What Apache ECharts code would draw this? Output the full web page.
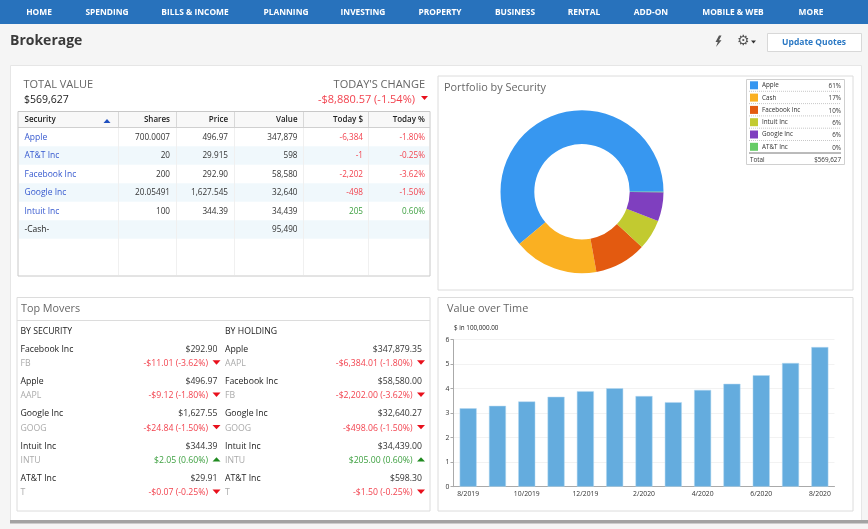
<!DOCTYPE html>
<html>
<head>
<meta charset="utf-8">
<title>Brokerage</title>
<style>
html, body { margin: 0; padding: 0; background: #f5f5f5; }
#main { width: 868px; height: 529px; }
</style>
<script src="https://cdn.jsdelivr.net/npm/echarts@6/dist/echarts.min.js"></script>
</head>
<body>
<div id="main"></div>
<script>
// nav
var navLabels = ['HOME', 'SPENDING', 'BILLS & INCOME', 'PLANNING', 'INVESTING', 'PROPERTY', 'BUSINESS', 'RENTAL', 'ADD-ON', 'MOBILE & WEB', 'MORE'];
var navCenters = [39, 107, 195, 286, 363, 440, 515, 584, 651, 733, 811];

// holdings table
var tableHead = ['Security', 'Shares', 'Price', 'Value', 'Today $', 'Today %'];
var securities = ['Apple', 'AT&T Inc', 'Facebook Inc', 'Google Inc', 'Intuit Inc', '-Cash-'];
var shares = ['700.0007', '20', '200', '20.05491', '100', ''];
var prices = ['496.97', '29.915', '292.90', '1,627.545', '344.39', ''];
var values = ['347,879', '598', '58,580', '32,640', '34,439', '95,490'];
var todayUsd = ['-6,384', '-1', '-2,202', '-498', '205', ''];
var todayPct = ['-1.80%', '-0.25%', '-3.62%', '-1.50%', '0.60%', ''];

// portfolio donut
var pieNames = ['Apple', 'Cash', 'Facebook Inc', 'Intuit Inc', 'Google Inc', 'AT&T Inc'];
var pieValues = [347879, 95490, 58580, 34439, 32640, 598];
var piePct = ['61%', '17%', '10%', '6%', '6%', '0%'];
var pieColors = ['#3797f0', '#fab022', '#e35a10', '#c2ca30', '#7f3fbf', '#66cc66'];

// top movers
var secNames = ['Facebook Inc', 'Apple', 'Google Inc', 'Intuit Inc', 'AT&T Inc'];
var secTickers = ['FB', 'AAPL', 'GOOG', 'INTU', 'T'];
var secPrices = ['$292.90', '$496.97', '$1,627.55', '$344.39', '$29.91'];
var secChanges = ['-$11.01 (-3.62%)', '-$9.12 (-1.80%)', '-$24.84 (-1.50%)', '$2.05 (0.60%)', '-$0.07 (-0.25%)'];
var holdNames = ['Apple', 'Facebook Inc', 'Google Inc', 'Intuit Inc', 'AT&T Inc'];
var holdTickers = ['AAPL', 'FB', 'GOOG', 'INTU', 'T'];
var holdValues = ['$347,879.35', '$58,580.00', '$32,640.27', '$34,439.00', '$598.30'];
var holdChanges = ['-$6,384.01 (-1.80%)', '-$2,202.00 (-3.62%)', '-$498.06 (-1.50%)', '$205.00 (0.60%)', '-$1.50 (-0.25%)'];

// value over time
var months = ['8/2019', '9/2019', '10/2019', '11/2019', '12/2019', '1/2020', '2/2020', '3/2020', '4/2020', '5/2020', '6/2020', '7/2020', '8/2020'];
var monthValues = [3.2, 3.3, 3.48, 3.67, 3.9, 4.02, 3.7, 3.45, 3.95, 4.2, 4.55, 5.05, 5.7];

var FONT = '"Open Sans", sans-serif';
var RED = '#f2434f', GREEN = '#3fa142', BLUE = '#3558cf';
var els = [];

function rect(x, y, w, h, fill, stroke) {
    els.push({
        type: 'rect', shape: { x: x, y: y, width: w, height: h },
        style: { fill: fill, stroke: stroke || null, lineWidth: stroke ? 1 : 0 }, silent: true
    });
}
function line(x1, y1, x2, y2, color, dash) {
    els.push({
        type: 'line', shape: { x1: x1, y1: y1, x2: x2, y2: y2 },
        style: { stroke: color, lineWidth: 1, lineDash: dash || null }, silent: true
    });
}
function text(str, x, y, size, color, align, weight) {
    els.push({
        type: 'text', x: x, y: y + 0.7, silent: true,
        style: {
            text: str, fontFamily: FONT, fontSize: size, fill: color,
            align: align || 'left', verticalAlign: 'middle', fontWeight: weight || 'normal'
        }
    });
}
function tri(cx, cy, up, color, w, h) {
    w = w || 4.5; h = h || 2.5;
    els.push({
        type: 'polygon', silent: true,
        shape: { points: up ? [[cx - w, cy + h], [cx + w, cy + h], [cx, cy - h]] : [[cx - w, cy - h], [cx + w, cy - h], [cx, cy + h]] },
        style: { fill: color }
    });
}
function changeColor(s) { return s.charAt(0) === '-' ? RED : GREEN; }

// page frame
rect(0, 0, 868, 24, '#2872bc');
navLabels.forEach(function (n, i) { text(n, navCenters[i], 12, 8.4, '#ffffff', 'center', 'bold'); });
text('Brokerage', 10, 40.5, 14, '#3a3a3a', 'left', 'bold');
rect(10.5, 65.5, 851, 455, '#ffffff', '#e6e6e6');
rect(10, 520, 858, 3.5, '#a3a3a3');

// toolbar
els.push({
    type: 'polygon', silent: true,
    shape: { points: [[719, 35.5], [715.5, 42], [717.8, 42], [716, 47], [721.5, 40.3], [719, 40.3], [721.5, 35.5]] },
    style: { fill: '#555555' }
});
text('\u2699', 743, 40.5, 14, '#555555', 'center');
tri(753.5, 42, false, '#333333', 2.5, 1.5);
rect(767.5, 33.5, 94, 18, '#ffffff', '#d8d8d8');
text('Update Quotes', 814, 42, 8.5, '#2a78c4', 'center', 'bold');

// totals
text('TOTAL VALUE', 23.5, 84.5, 11, '#666666');
text('$569,627', 24, 99.5, 10.5, '#222222');
text("TODAY'S CHANGE", 425, 84.5, 11, '#666666', 'right');
text('-$8,880.57 (-1.54%)', 415, 99.5, 11, RED, 'right');
tri(424.5, 98, false, '#e8101c', 3.5, 2);

// holdings table
var colEdges = [118.5, 176.5, 234.5, 303.5, 368.5];
var colRights = [170, 228, 297.5, 363, 425];
var rowY = [137, 155.5, 174, 192.5, 211, 229.5];
rect(18, 111.5, 412, 164.5, '#ffffff', '#c8c8c8');
rect(19, 112, 410, 15.5, '#f8f8f8');
line(18, 127.5, 430, 127.5, '#d0d0d0');
securities.forEach(function (s, i) {
    if (i % 2 === 1) rect(19, rowY[i] - 9.2, 410, 18.4, '#f0f8fc');
});
colEdges.forEach(function (x) {
    line(x, 112, x, 127, '#d8d8d8');
    line(x, 128, x, 275, '#f0f0f0');
});
tableHead.forEach(function (h, i) {
    if (i === 0) text(h, 24.5, 119.5, 8, '#222222', 'left', 600);
    else text(h, colRights[i - 1], 119.5, 8, '#222222', 'right', 600);
});
tri(107, 121, true, '#1f4fbf', 3.5, 2);
securities.forEach(function (s, i) {
    var y = rowY[i] - 0.5;
    text(s, 24.5, y, 8.5, i === 5 ? '#222222' : BLUE);
    text(shares[i], colRights[0], y, 8.2, '#333333', 'right');
    text(prices[i], colRights[1], y, 8.2, '#333333', 'right');
    text(values[i], colRights[2], y, 8.2, '#333333', 'right');
    if (todayUsd[i]) {
        text(todayUsd[i], colRights[3], y, 8.2, changeColor(todayUsd[i]), 'right');
        text(todayPct[i], colRights[4], y, 8.2, changeColor(todayPct[i]), 'right');
    }
});

// portfolio panel
rect(438, 76, 415, 214, '#ffffff', '#dcdcdc');
text('Portfolio by Security', 444, 87, 10.9, '#666666');
rect(746.5, 79.5, 98, 85, '#ffffff', '#d0d0d0');
pieNames.forEach(function (n, i) {
    var y = 85.3 + i * 12.3;
    rect(750, y - 4, 8, 8, pieColors[i]);
    text(n, 762, y - 0.5, 6.3, '#333333');
    text(piePct[i], 841, y + 0.3, 6.3, '#333333', 'right');
    if (i < 5) line(749, y + 6, 841, y + 6, '#c8c8c8', [1, 1]);
});
line(749, 153, 841, 153, '#777777');
text('Total', 750, 159.5, 6.3, '#333333');
text('$569,627', 841, 159.5, 6.3, '#333333', 'right');

// top movers panel
rect(17, 297.5, 413, 213.5, '#ffffff', '#dcdcdc');
line(17, 320.5, 430, 320.5, '#dcdcdc');
text('Top Movers', 21, 308.5, 10.8, '#666666');
function moverColumn(head, x, priceRight, changeRight, triX, names, tickers, prices2, changes) {
    text(head, x, 330.5, 8.7, '#222222');
    names.forEach(function (n, i) {
        var y1 = 348.5 + i * 32.3, y2 = 363 + i * 32.3;
        text(n, x, y1, 8.7, '#222222');
        text(tickers[i], x, y2, 8.7, '#aaaaaa');
        text(prices2[i], priceRight, y1, 8.7, '#333333', 'right');
        var c = changeColor(changes[i]);
        text(changes[i], changeRight, y2, 8.7, c, 'right');
        if (c === RED) tri(triX, y2 - 0.5, false, '#e8101c', 4, 2.2);
        else tri(triX, y2 - 0.5, true, '#1f8a1f', 4, 2.2);
    });
}
moverColumn('BY SECURITY', 20.5, 217.5, 208, 216.5, secNames, secTickers, secPrices, secChanges);
moverColumn('BY HOLDING', 225, 422, 412.5, 421, holdNames, holdTickers, holdValues, holdChanges);

// value over time panel
rect(438, 297.5, 415, 213.5, '#ffffff', '#dcdcdc');
text('Value over Time', 447, 308.5, 10.9, '#666666');
text('$ in 100,000.00', 454, 327.5, 6.3, '#222222');

var myChart = echarts.init(document.getElementById('main'), null, { renderer: 'canvas' });
var option = {
    animation: false,
    backgroundColor: '#f5f5f5',
    graphic: { elements: els },
    grid: { left: 453.5, top: 339.7, width: 381, height: 147, containLabel: false },
    xAxis: {
        type: 'category',
        data: months,
        axisLine: { lineStyle: { color: '#aaaaaa', width: 1 } },
        axisTick: { show: false },
        axisLabel: { interval: 1, fontSize: 6.8, color: '#333333', fontFamily: FONT, margin: 4, hideOverlap: false },
        splitLine: { show: false }
    },
    yAxis: {
        type: 'value',
        min: 0,
        max: 6,
        interval: 1,
        axisLine: { show: true, lineStyle: { color: '#aaaaaa', width: 1 } },
        axisTick: { show: true, length: 3, lineStyle: { color: '#aaaaaa' } },
        axisLabel: { fontSize: 6.8, color: '#333333', fontFamily: FONT, margin: 4 },
        splitLine: { show: true, lineStyle: { color: '#f2f2f2', width: 1 } }
    },
    series: [{
        name: 'Portfolio by Security',
        type: 'pie',
        center: [582, 191.7],
        radius: [47.7, 81.5],
        startAngle: 0,
        clockwise: false,
        label: { show: false },
        labelLine: { show: false },
        silent: true,
        data: pieNames.map(function (n, i) {
            return { name: n, value: pieValues[i], itemStyle: { color: pieColors[i] } };
        })
    }, {
        name: 'Value over Time',
        type: 'bar',
        barWidth: 17,
        data: monthValues,
        silent: true,
        itemStyle: { color: '#64acde', borderColor: '#b5d8f0', borderWidth: 0.5 }
    }]
};
myChart.setOption(option);
</script>
</body>
</html>
